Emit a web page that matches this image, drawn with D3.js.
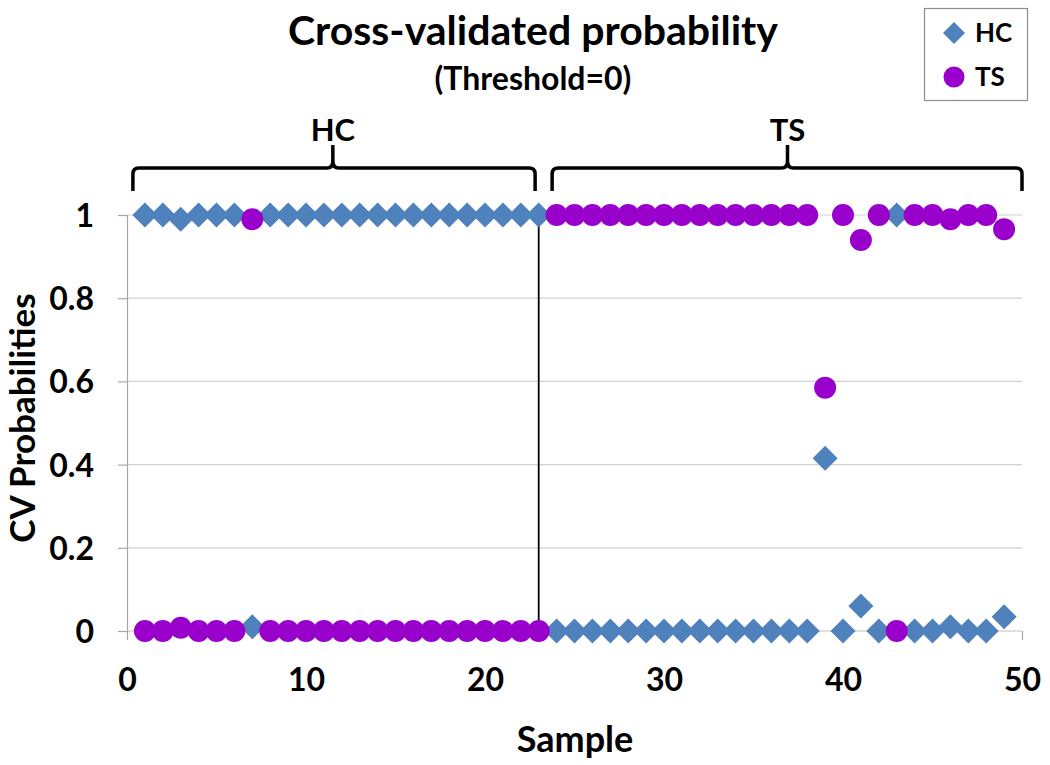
<!DOCTYPE html>
<html><head><meta charset="utf-8">
<script src="https://cdn.jsdelivr.net/npm/d3@7"></script>
<style>
html,body{margin:0;padding:0;background:#fff;}
text{font-family:Lato,"Open Sans",sans-serif;font-weight:bold;fill:#000;}
</style></head>
<body>
<svg id="chart" width="1050" height="765"></svg>
<script>
// ---- data ----
const samples = [1,2,3,4,5,6,7,8,9,10,11,12,13,14,15,16,17,18,19,20,21,22,23,24,25,26,27,28,29,30,31,32,33,34,35,36,37,38,39,40,41,42,43,44,45,46,47,48,49];
const hcValues = [1,1,0.99,1,1,1,0.01,1,1,1,1,1,1,1,1,1,1,1,1,1,1,1,1,
                  0,0,0,0,0,0,0,0,0,0,0,0,0,0,0,
                  0.415,0,0.06,0,1,0,0,0.01,0,0,0.034];
const tsValues = [0,0,0.008,0,0,0,0.99,0,0,0,0,0,0,0,0,0,0,0,0,0,0,0,0,
                  1,1,1,1,1,1,1,1,1,1,1,1,1,1,1,
                  0.585,1,0.94,1,0,1,1,0.99,1,1,0.966];
const seriesNames = ["HC","TS"];
const xTicks = [0,10,20,30,40,50];
const yTicks = [0,0.2,0.4,0.6,0.8,1];
const yTickLabels = ["0","0.2","0.4","0.6","0.8","1"];
const groupLabels = ["HC","TS"];
const groupStart = [0.33, 23.75];
const groupEnd = [22.8, 50];
const groupMid = [11.5, 36.9];
const separatorX = 23;

// ---- layout ----
const svg = d3.select("#chart");
const x = d3.scaleLinear().domain([0,50]).range([127,1022]);
const y = d3.scaleLinear().domain([0,1]).range([631,215]);
const blue = "#4F81BD", purple = "#9900CC";

// gridlines
svg.append("g").selectAll("line").data(yTicks.filter(d=>d>0)).join("line")
  .attr("x1", x(0)).attr("x2", x(50))
  .attr("y1", d=>y(d)).attr("y2", d=>y(d))
  .attr("stroke", "#d0d0d0").attr("stroke-width", 1.2);

// y axis
const yAxis = d3.axisLeft(y).tickValues(yTicks).tickSize(9)
  .tickFormat((d,i)=>yTickLabels[i]).tickPadding(24);
const gy = svg.append("g").attr("transform", `translate(${x(0)},0)`).call(yAxis);
gy.select(".domain").attr("stroke","#a6a6a6").attr("stroke-width",1.2);
gy.selectAll(".tick line").attr("stroke","#a6a6a6").attr("stroke-width",1.2);
gy.selectAll(".tick text").style("font-size","32px").style("font-family","Lato").style("font-weight","bold").attr("fill","#000").attr("dy","0.36em");

// x axis
const xAxis = d3.axisBottom(x).tickValues(xTicks).tickSize(9).tickPadding(28);
const gx = svg.append("g").attr("transform", `translate(0,${y(0)})`).call(xAxis);
gx.select(".domain").attr("d", `M${x(0)},0H${x(50)}`).attr("stroke","#c0c0c0").attr("stroke-width",1.2);
gx.selectAll(".tick line").attr("stroke","#a6a6a6").attr("stroke-width",1.2);
gx.selectAll(".tick text").style("font-size","32px").style("font-family","Lato").style("font-weight","bold").attr("fill","#000");

// separator line
svg.append("line").attr("x1", x(separatorX)).attr("x2", x(separatorX))
  .attr("y1", y(1)).attr("y2", y(0)).attr("stroke","#000").attr("stroke-width",1.8);

// series (HC diamonds first, TS circles on top)
const sq = d3.symbol().type(d3.symbolSquare).size(2*12.5*12.5);
svg.append("g").selectAll("path").data(samples.map((s,i)=>[s,hcValues[i]])).join("path")
  .attr("d", sq)
  .attr("transform", d=>`translate(${x(d[0])},${y(d[1])}) rotate(45)`)
  .attr("fill", blue);
svg.append("g").selectAll("circle").data(samples.map((s,i)=>[s,tsValues[i]])).join("circle")
  .attr("cx", d=>x(d[0])).attr("cy", d=>y(d[1])).attr("r", 11)
  .attr("fill", purple);

// braces
function brace(x0, x1, xm, yb, yh, yt){
  const r = 6;
  return `M${x0},${yb} L${x0},${yh+r} Q${x0},${yh} ${x0+r},${yh} L${xm-6},${yh} Q${xm},${yh} ${xm},${yh-7} L${xm},${yt}`
   + ` M${xm},${yh-7} Q${xm},${yh} ${xm+6},${yh} L${x1-r},${yh} Q${x1},${yh} ${x1},${yh+r} L${x1},${yb}`;
}
groupLabels.forEach((lab,i)=>{
  svg.append("path").attr("d", brace(x(groupStart[i]), x(groupEnd[i]), x(groupMid[i]), 191, 168, 145))
    .attr("fill","none").attr("stroke","#000").attr("stroke-width",3.5).attr("stroke-linejoin","round");
  svg.append("text").attr("x", x(groupMid[i])).attr("y", 141).attr("text-anchor","middle")
    .style("font-size","31px").text(lab);
});

// titles
svg.append("text").attr("x", 533).attr("y", 45).attr("text-anchor","middle")
  .style("font-size","41px").text("Cross-validated probability");
svg.append("text").attr("x", 533).attr("y", 90).attr("text-anchor","middle")
  .style("font-size","32px").text("(Threshold=0)");
svg.append("text").attr("x", 575).attr("y", 752).attr("text-anchor","middle")
  .style("font-size","36px").text("Sample");
svg.append("text").attr("transform","translate(35,418) rotate(-90)").attr("text-anchor","middle")
  .style("font-size","35px").text("CV Probabilities");

// legend
const lg = svg.append("g");
lg.append("rect").attr("x",924.5).attr("y",8.5).attr("width",103).attr("height",92)
  .attr("fill","#fff").attr("stroke","#8c8c8c").attr("stroke-width",1.2);
lg.append("path").attr("d", d3.symbol().type(d3.symbolSquare).size(2*11*11))
  .attr("transform","translate(954,33) rotate(45)").attr("fill",blue);
lg.append("circle").attr("cx",954).attr("cy",77).attr("r",10.5).attr("fill",purple);
lg.append("text").attr("x",975).attr("y",42).style("font-size","26px").text(seriesNames[0]);
lg.append("text").attr("x",975).attr("y",86).style("font-size","26px").text(seriesNames[1]);
</script>
</body></html>
